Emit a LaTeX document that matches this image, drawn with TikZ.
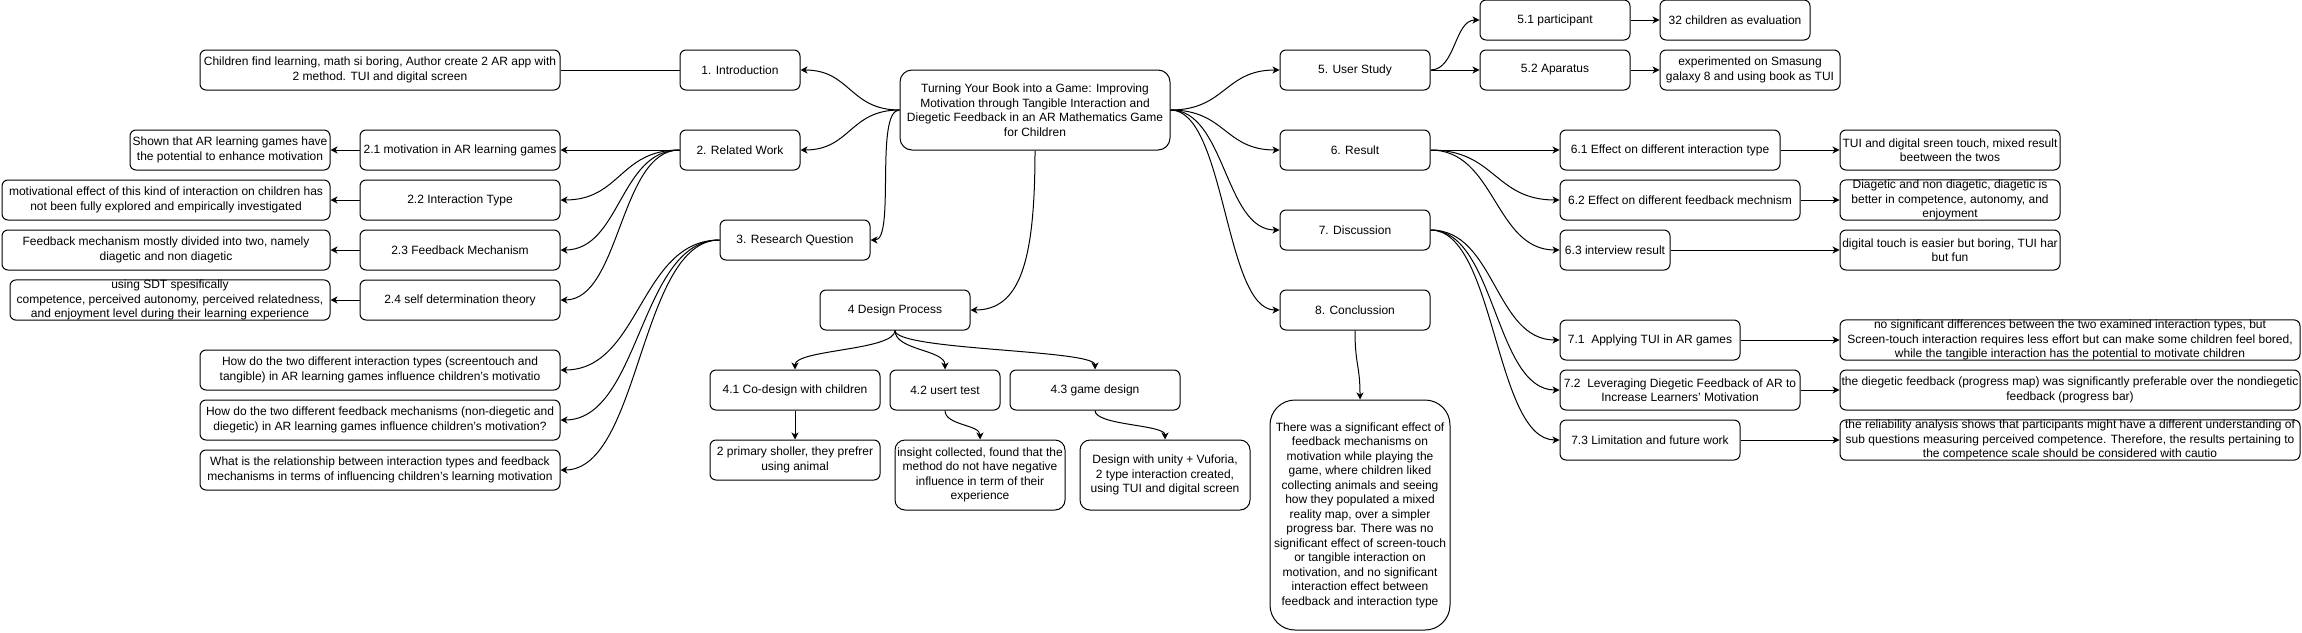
\documentclass[tikz,border=0pt]{standalone}
\usepackage{fontspec}
\setmainfont{Liberation Sans}
\usetikzlibrary{arrows.meta}

\begin{document}
\begin{tikzpicture}[
        x = 1pt, y = -1pt,
        line join=round,
        line width = 1pt,
        >={Stealth[length=7pt, width=7pt, inset=2pt]},
        boxstyle/.style = {draw, rounded corners=6pt, align=center, inner xsep=1pt, inner ysep=0pt, minimum height=40pt, font=\fontsize{12}{14.5}\selectfont}
    ]
    \useasboundingbox (0,0) rectangle (2302,632);

    \node[boxstyle, rounded corners=12pt, minimum width=270pt, minimum height=80pt] (title) at (1035,110)
        {Turning Your Book into a Game: Improving\\Motivation through Tangible Interaction and\\Diegetic Feedback in an AR Mathematics Game\\for Children};

    % left side
    \node[boxstyle, minimum width=120pt] (intro) at (740,70) {1. Introduction};
    \node[boxstyle, minimum width=360pt] (introtxt) at (380,70) {Children find learning, math si boring, Author create 2 AR app with\\2 method. TUI and digital screen};

    \node[boxstyle, minimum width=120pt] (rw) at (740,150) {2. Related Work};
    \node[boxstyle, minimum width=200pt] (s21) at (460,150) {2.1 motivation in AR learning games};
    \node[boxstyle, minimum width=200pt] (s22) at (460,200) {2.2 Interaction Type};
    \node[boxstyle, minimum width=200pt] (s23) at (460,250) {2.3 Feedback Mechanism};
    \node[boxstyle, minimum width=200pt] (s24) at (460,300) {2.4 self determination theory};
    \node[boxstyle, minimum width=200pt] (t21) at (230,150) {Shown that AR learning games have\\the potential to enhance motivation};
    \node[boxstyle, minimum width=328pt] (t22) at (166,200) {motivational effect of this kind of interaction on children has\\not been fully explored and empirically investigated};
    \node[boxstyle, minimum width=328pt] (t23) at (166,250) {Feedback mechanism mostly divided into two, namely\\diagetic and non diagetic};
    \node[boxstyle, minimum width=320pt] (t24) at (170,300) {using SDT spesifically\\competence, perceived autonomy, perceived relatedness,\\and enjoyment level during their learning experience};

    \node[boxstyle, minimum width=150pt] (rq) at (795,240) {3. Research Question};
    \node[boxstyle, minimum width=360pt] (rq1) at (380,370) {How do the two different interaction types (screentouch and\\tangible) in AR learning games influence children’s motivatio};
    \node[boxstyle, minimum width=360pt] (rq2) at (380,420) {How do the two different feedback mechanisms (non-diegetic and\\diegetic) in AR learning games influence children’s motivation?};
    \node[boxstyle, minimum width=360pt] (rq3) at (380,470) {What is the relationship between interaction types and feedback\\mechanisms in terms of influencing children’s learning motivation};

    \node[boxstyle, minimum width=150pt] (dp) at (895,310) {4 Design Process};
    \node[boxstyle, minimum width=170pt] (s41) at (795,390) {4.1 Co-design with children};
    \node[boxstyle, minimum width=110pt] (s42) at (945,390) {4.2 usert test};
    \node[boxstyle, minimum width=170pt] (s43) at (1095,390) {4.3 game design};
    \node[boxstyle, minimum width=170pt] (t41) at (795,460) {2 primary sholler, they prefrer\\using animal};
    \node[boxstyle, rounded corners=10pt, minimum width=170pt, minimum height=70pt] (t42) at (980,475) {insight collected, found that the\\method do not have negative\\influence in term of their\\experience};
    \node[boxstyle, rounded corners=10pt, minimum width=170pt, minimum height=70pt] (t43) at (1165,475) {Design with unity + Vuforia,\\2 type interaction created,\\using TUI and digital screen};

    % right side
    \node[boxstyle, minimum width=150pt] (us) at (1355,70) {5. User Study};
    \node[boxstyle, minimum width=150pt] (s51) at (1555,20) {5.1 participant};
    \node[boxstyle, minimum width=150pt] (s52) at (1555,70) {5.2 Aparatus};
    \node[boxstyle, minimum width=150pt] (t51) at (1735,20) {32 children as evaluation};
    \node[boxstyle, minimum width=180pt] (t52) at (1750,70) {experimented on Smasung\\galaxy 8 and using book as TUI};

    \node[boxstyle, minimum width=150pt] (res) at (1355,150) {6. Result};
    \node[boxstyle, minimum width=220pt] (s61) at (1670,150) {6.1 Effect on different interaction type};
    \node[boxstyle, minimum width=240pt] (s62) at (1680,200) {6.2 Effect on different feedback mechnism};
    \node[boxstyle, minimum width=110pt] (s63) at (1615,250) {6.3 interview result};
    \node[boxstyle, minimum width=220pt] (t61) at (1950,150) {TUI and digital sreen touch, mixed result\\beetween the twos};
    \node[boxstyle, minimum width=220pt] (t62) at (1950,200) {Diagetic and non diagetic, diagetic is\\better in competence, autonomy, and\\enjoyment};
    \node[boxstyle, minimum width=220pt] (t63) at (1950,250) {digital touch is easier but boring, TUI har\\but fun};

    \node[boxstyle, minimum width=150pt] (dis) at (1355,230) {7. Discussion};
    \node[boxstyle, minimum width=180pt] (s71) at (1650,340) {7.1~ Applying TUI in AR games};
    \node[boxstyle, minimum width=240pt] (s72) at (1680,390) {7.2~ Leveraging Diegetic Feedback of AR to\\Increase Learners’ Motivation};
    \node[boxstyle, minimum width=180pt] (s73) at (1650,440) {7.3 Limitation and future work};
    \node[boxstyle, minimum width=460pt] (t71) at (2070,340) {no significant differences between the two examined interaction types, but\\Screen-touch interaction requires less effort but can make some children feel bored,\\while the tangible interaction has the potential to motivate children};
    \node[boxstyle, minimum width=460pt] (t72) at (2070,390) {the diegetic feedback (progress map) was significantly preferable over the nondiegetic\\feedback (progress bar)};
    \node[boxstyle, minimum width=460pt] (t73) at (2070,440) {the reliability analysis shows that participants might have a different understanding of\\sub questions measuring perceived competence. Therefore, the results pertaining to\\the competence scale should be considered with cautio};

    \node[boxstyle, minimum width=150pt] (con) at (1355,310) {8. Conclussion};
    \node[boxstyle, rounded corners=25pt, minimum width=180pt, minimum height=230pt] (ctxt) at (1360,515)
        {There was a significant effect of\\feedback mechanisms on\\motivation while playing the\\game, where children liked\\collecting animals and seeing\\how they populated a mixed\\reality map, over a simpler\\progress bar. There was no\\significant effect of screen-touch\\or tangible interaction on\\motivation, and no significant\\interaction effect between\\feedback and interaction type};

    % connectors from the title
    \draw[->] (title.west) .. controls +(-50,0) and +(50,0) .. (intro.east);
    \draw[->] (title.west) .. controls +(-50,0) and +(50,0) .. (rw.east);
    \draw[->] (title.west) .. controls +(-25,0) and +(25,0) .. (rq.east);
    \draw[->] (title.south) .. controls +(0,110) and +(50,0) .. (dp.east);
    \draw[->] (title.east) .. controls +(55,0) and +(-55,0) .. (us.west);
    \draw[->] (title.east) .. controls +(55,0) and +(-55,0) .. (res.west);
    \draw[->] (title.east) .. controls +(55,0) and +(-55,0) .. (dis.west);
    \draw[->] (title.east) .. controls +(55,0) and +(-55,0) .. (con.west);

    \draw (intro) -- (introtxt);

    \draw[->] (rw) -- (s21);
    \draw[->] (rw.west) .. controls +(-60,0) and +(60,0) .. (s22.east);
    \draw[->] (rw.west) .. controls +(-60,0) and +(60,0) .. (s23.east);
    \draw[->] (rw.west) .. controls +(-60,0) and +(60,0) .. (s24.east);
    \draw[->] (s21) -- (t21);
    \draw[->] (s22) -- (t22);
    \draw[->] (s23) -- (t23);
    \draw[->] (s24) -- (t24);

    \draw[->] (rq.west) .. controls +(-80,0) and +(80,0) .. (rq1.east);
    \draw[->] (rq.west) .. controls +(-80,0) and +(80,0) .. (rq2.east);
    \draw[->] (rq.west) .. controls +(-80,0) and +(80,0) .. (rq3.east);

    \draw[->] (dp.south) .. controls +(0,20) and +(0,-20) .. (s41.north);
    \draw[->] (dp.south) .. controls +(0,20) and +(0,-20) .. (s42.north);
    \draw[->] (dp.south) .. controls +(0,20) and +(0,-20) .. (s43.north);
    \draw[->] (s41) -- (t41);
    \draw[->] (s42.south) .. controls +(0,15) and +(0,-15) .. (t42.north);
    \draw[->] (s43.south) .. controls +(0,15) and +(0,-15) .. (t43.north);

    \draw[->] (us.east) .. controls +(25,0) and +(-25,0) .. (s51.west);
    \draw[->] (us) -- (s52);
    \draw[->] (s51) -- (t51);
    \draw[->] (s52) -- (t52);

    \draw[->] (res) -- (s61);
    \draw[->] (res.east) .. controls +(65,0) and +(-65,0) .. (s62.west);
    \draw[->] (res.east) .. controls +(65,0) and +(-65,0) .. (s63.west);
    \draw[->] (s61) -- (t61);
    \draw[->] (s62) -- (t62);
    \draw[->] (s63) -- (t63);

    \draw[->] (dis.east) .. controls +(65,0) and +(-65,0) .. (s71.west);
    \draw[->] (dis.east) .. controls +(65,0) and +(-65,0) .. (s72.west);
    \draw[->] (dis.east) .. controls +(65,0) and +(-65,0) .. (s73.west);
    \draw[->] (s71) -- (t71);
    \draw[->] (s72) -- (t72);
    \draw[->] (s73) -- (t73);

    \draw[->] (con.south) .. controls +(0,35) and +(0,-35) .. (ctxt.north);
    % \draw[->] (con) -- (ctxt);
\end{tikzpicture}
\end{document}
